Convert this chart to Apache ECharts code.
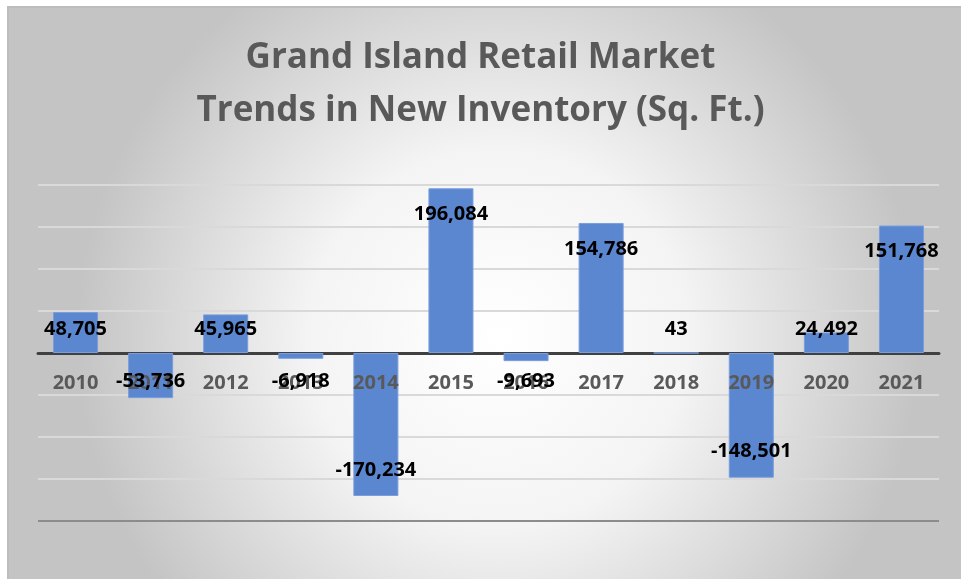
<!DOCTYPE html>
<html lang="en">
<head>
    <meta charset="UTF-8">
    <title>Grand Island Retail Market</title>
    <script src="https://cdn.jsdelivr.net/npm/echarts@6/dist/echarts.min.js"></script>
    <style>
        html, body { margin: 0; padding: 0; background: #fff; }
    </style>
</head>
<body>
<div id="main" style="width: 961px; height: 579px;"></div>
<script>
    // values
    var years = ['2010', '2011', '2012', '2013', '2014', '2015', '2016', '2017', '2018', '2019', '2020', '2021'];
    var newInventory = [48705, -53736, 45965, -6918, -170234, 196084, -9693, 154786, 43, -148501, 24492, 151768];
    var yMin = -200000, yMax = 200000, yStep = 50000;

    var gridTop = 185, gridBottom = 58;
    var fontFam = 'Open Sans';

    var mychart = echarts.init(document.getElementById('main'));

    // short bars get their label pushed out next to the axis, like excel does
    var labelData = newInventory.map(function (v) {
        var big = Math.abs(v) > 60000;
        var pos, dist;
        if (v >= 0) {
            pos = big ? 'insideTop' : 'insideBottom';
            dist = big ? 16 : 14;
        } else {
            pos = big ? 'insideBottom' : 'insideTop';
            dist = big ? 16 : 18;
        }
        return { value: v, label: { position: pos, distance: dist } };
    });

    // the year labels sit on the zero line, not at the bottom of the grid
    var gridH = 579 - gridTop - gridBottom;
    var zeroOffset = -gridH * (0 - yMin) / (yMax - yMin);

    var splitColors = ['#8c8c8c', '#d9d9d9', '#d9d9d9', '#d9d9d9', '#d9d9d9', '#d9d9d9', '#d9d9d9', '#d9d9d9', '#d9d9d9'];

    mychart.setOption({
        animation: false,
        backgroundColor: '#ffffff',
        graphic: [{
            type: 'rect',
            z: -10,
            silent: true,
            shape: { x: 8, y: 7, width: 980, height: 600 },
            style: {
                fill: new echarts.graphic.RadialGradient(0.5, 0.55, 0.7, [
                    { offset: 0, color: '#ffffff' },
                    { offset: 0.45, color: '#f4f4f4' },
                    { offset: 1, color: '#c4c4c4' }
                ]),
                stroke: '#bdbdbd',
                lineWidth: 2
            }
        }],
        title: {
            text: 'Grand Island Retail Market\nTrends in New Inventory (Sq. Ft.)',
            left: 'center',
            top: 32,
            padding: 0,
            textStyle: {
                fontFamily: fontFam,
                fontWeight: 'bold',
                fontSize: 35,
                lineHeight: 53,
                color: '#595959'
            }
        },
        grid: { left: 38, right: 22, top: gridTop, bottom: gridBottom },
        xAxis: [{
            type: 'category',
            data: years,
            axisLine: { onZero: true, lineStyle: { color: '#404040', width: 3 } },
            axisTick: { show: false },
            axisLabel: { show: false }
        }, {
            type: 'category',
            data: years,
            position: 'bottom',
            offset: zeroOffset,
            z: 4,
            axisLine: { show: false },
            axisTick: { show: false },
            axisLabel: {
                margin: 20,
                fontFamily: fontFam,
                fontWeight: 'bold',
                fontSize: 20,
                color: '#595959'
            }
        }],
        yAxis: {
            type: 'value',
            min: yMin,
            max: yMax,
            interval: yStep,
            axisLabel: { show: false },
            axisLine: { show: false },
            axisTick: { show: false },
            splitLine: { lineStyle: { color: splitColors, width: 2 } }
        },
        series: [{
            type: 'bar',
            data: newInventory,
            barWidth: '60%',
            z: 2,
            itemStyle: { color: '#5b86d0', borderColor: '#7a9edc', borderWidth: 1 }
        }, {
            // invisible copy of the bars that only carries the value labels, drawn over the years
            type: 'bar',
            data: labelData,
            barWidth: '60%',
            barGap: '-100%',
            z: 6,
            silent: true,
            itemStyle: { color: 'rgba(0,0,0,0)' },
            label: {
                show: true,
                fontFamily: fontFam,
                fontWeight: 'bold',
                fontSize: 20,
                color: '#000000',
                formatter: function (p) { return p.value.toLocaleString('en-US'); }
            }
        }]
    });
</script>
</body>
</html>
